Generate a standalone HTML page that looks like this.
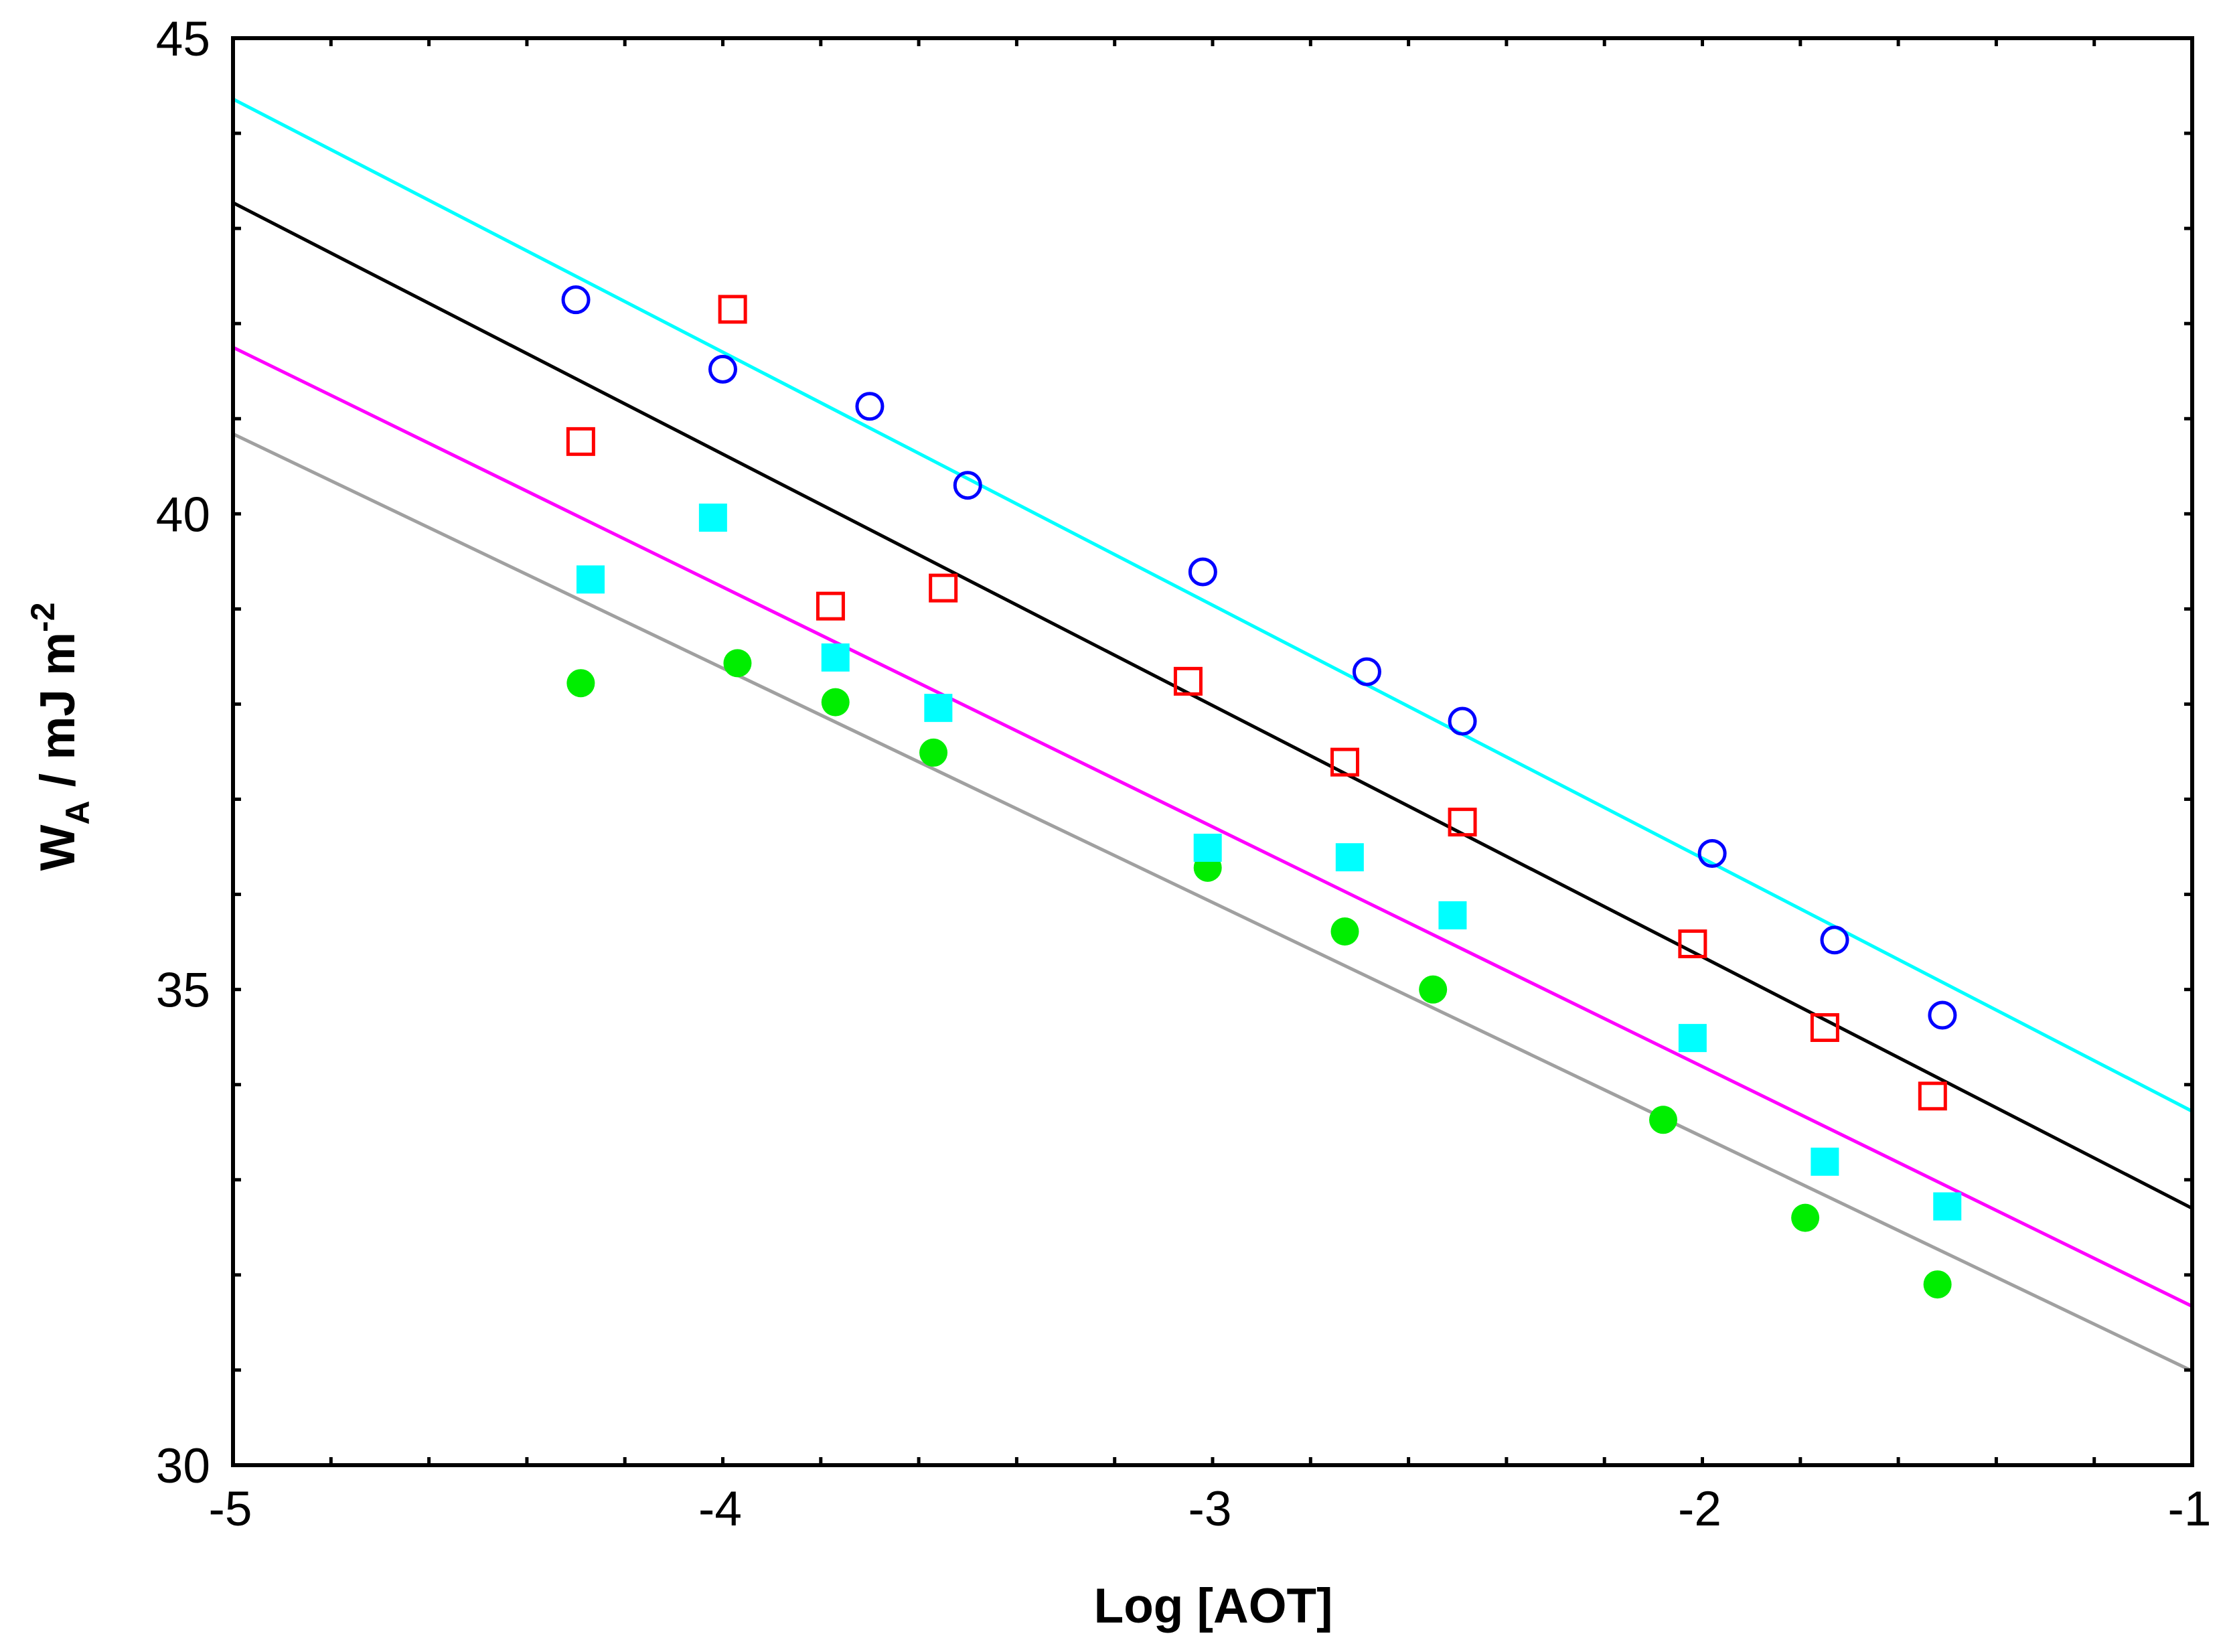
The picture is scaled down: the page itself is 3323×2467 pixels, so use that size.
<!DOCTYPE html>
<html><head><meta charset="utf-8"><style>
html,body{margin:0;padding:0;background:#fff;}
svg{display:block;font-family:"Liberation Sans",Arial,sans-serif;}
</style></head><body>
<svg id="chart" width="3323" height="2467" viewBox="0 0 3323 2467" xmlns="http://www.w3.org/2000/svg">
<rect x="0" y="0" width="3323" height="2467" fill="#fff"/>
<g id="fits"></g>
<g id="marks"></g>
<g id="axes"></g>
<text x="1812" y="2423" font-size="73" font-weight="bold" text-anchor="middle">Log [AOT]</text>
<text transform="translate(111,1100) rotate(-90)" font-size="73" font-weight="bold" text-anchor="middle">W<tspan font-size="50" dy="22">A</tspan><tspan dy="-22" font-style="normal"> / mJ m</tspan><tspan font-size="50" dy="-30">-2</tspan></text>
</svg>
<script>
const xTicks = [-5, -4, -3, -2, -1];
const yTicks = [30, 35, 40, 45];
const blueX = [-4.30, -4.00, -3.70, -3.50, -3.02, -2.685, -2.49, -1.98, -1.73, -1.51];
const blueY = [42.25, 41.52, 41.13, 40.30, 39.39, 38.34, 37.82, 36.43, 35.52, 34.73];
const redX = [-4.29, -3.98, -3.78, -3.55, -3.05, -2.73, -2.49, -2.02, -1.75, -1.53];
const redY = [40.76, 42.15, 39.03, 39.22, 38.24, 37.39, 36.76, 35.48, 34.60, 33.88];
const cyanX = [-4.27, -4.02, -3.77, -3.56, -3.01, -2.72, -2.51, -2.02, -1.75, -1.50];
const cyanY = [39.31, 39.96, 38.49, 37.96, 36.49, 36.39, 35.78, 34.49, 33.19, 32.72];
const greenX = [-4.29, -3.97, -3.77, -3.57, -3.01, -2.73, -2.55, -2.08, -1.79, -1.52];
const greenY = [38.22, 38.43, 38.02, 37.49, 36.28, 35.61, 35.00, 33.63, 32.60, 31.90];
const fitCyan = [44.36, 33.72];
const fitBlack = [43.27, 32.70];
const fitMagenta = [41.75, 31.67];
const fitGray = [40.84, 30.99];

const NS = "http://www.w3.org/2000/svg";
const L = 348, R = 3274, T = 57, B = 2188;
const x0 = -5, x1 = -1, y0 = 30, y1 = 45;
function sx(v){ return L + (v - x0) / (x1 - x0) * (R - L); }
function sy(v){ return B - (v - y0) / (y1 - y0) * (B - T); }
function mk(tag, attrs, parent){
  const e = document.createElementNS(NS, tag);
  for (const k in attrs) e.setAttribute(k, attrs[k]);
  parent.appendChild(e);
  return e;
}
const fits = document.getElementById('fits');
const marks = document.getElementById('marks');
const axes = document.getElementById('axes');

function fit(vals, color, name){
  const l = mk('line', {x1: sx(x0), y1: sy(vals[0]), x2: sx(x1), y2: sy(vals[1]), stroke: color, 'stroke-width': 5}, fits);
  
  
}
fit(fitGray, '#a0a0a0', 'fit-line-gray');
fit(fitMagenta, '#ff00ff', 'fit-line-magenta');
fit(fitBlack, '#000000', 'fit-line-black');
fit(fitCyan, '#00ffff', 'fit-line-cyan');

for (let i = 0; i < greenX.length; i++){
  const c = mk('circle', {cx: sx(greenX[i]), cy: sy(greenY[i]), r: 21, fill: '#00ee00'}, marks);
  
  
}
for (let i = 0; i < cyanX.length; i++){
  const s = mk('rect', {x: sx(cyanX[i]) - 21, y: sy(cyanY[i]) - 21, width: 42, height: 42, fill: '#00ffff'}, marks);
  
  
}
for (let i = 0; i < redX.length; i++){
  const s = mk('rect', {x: sx(redX[i]) - 19, y: sy(redY[i]) - 19, width: 38, height: 38, fill: 'none', stroke: '#ff0000', 'stroke-width': 5}, marks);
  
  
}
for (let i = 0; i < blueX.length; i++){
  const c = mk('circle', {cx: sx(blueX[i]), cy: sy(blueY[i]), r: 19, fill: 'none', stroke: '#0000ff', 'stroke-width': 5}, marks);
  
  
}

for (let v = x0; v <= x1 + 1e-9; v += 0.2){
  const X = sx(v);
  const t1 = mk('line', {x1: X, y1: B, x2: X, y2: B - 12, stroke: '#000', 'stroke-width': 5}, axes);
  
  
  const t2 = mk('line', {x1: X, y1: T, x2: X, y2: T + 12, stroke: '#000', 'stroke-width': 5}, axes);
  
  
}
for (let v = y0; v <= y1; v += 1){
  const Y = sy(v);
  const t1 = mk('line', {x1: L, y1: Y, x2: L + 12, y2: Y, stroke: '#000', 'stroke-width': 5}, axes);
  
  
  const t2 = mk('line', {x1: R, y1: Y, x2: R - 12, y2: Y, stroke: '#000', 'stroke-width': 5}, axes);
  
  
}
const frame = mk('rect', {x: L, y: T, width: R - L, height: B - T, fill: 'none', stroke: '#000', 'stroke-width': 6}, axes);



xTicks.forEach(v => {
  const t = mk('text', {x: sx(v) - 4, y: 2278, 'font-size': 73, 'text-anchor': 'middle'}, axes);
  t.textContent = String(v);
  
  
});
yTicks.forEach(v => {
  const t = mk('text', {x: 314, y: sy(v) + 26, 'font-size': 73, 'text-anchor': 'end'}, axes);
  t.textContent = String(v);
  
  
});
</script>
</body></html>
